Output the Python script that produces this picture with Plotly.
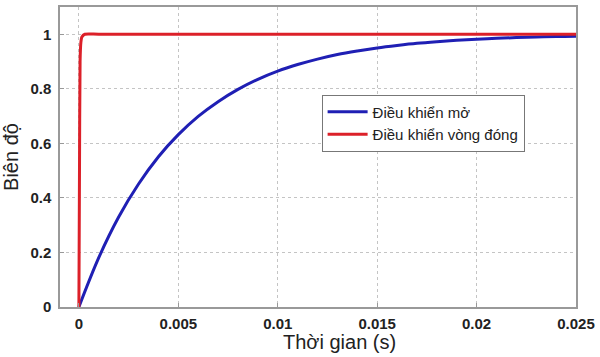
import plotly.graph_objects as go

# Values
t_open = [0, 0.001, 0.002, 0.003, 0.004, 0.005, 0.006, 0.007, 0.008, 0.009, 0.010,
          0.011, 0.012, 0.013, 0.014, 0.015, 0.016, 0.017, 0.018, 0.019, 0.020,
          0.021, 0.022, 0.023, 0.024, 0.025]
y_open = [0, 0.181, 0.330, 0.451, 0.551, 0.632, 0.699, 0.753, 0.798, 0.835, 0.865,
          0.889, 0.909, 0.926, 0.939, 0.950, 0.959, 0.967, 0.973, 0.978, 0.982,
          0.985, 0.988, 0.990, 0.992, 0.993]
t_closed = [0, 0.00003, 0.00006, 0.0001, 0.00015, 0.0003, 0.001, 0.025]
y_closed = [0, 0.5, 0.9, 0.97, 0.99, 1.0, 1.0, 1.0]

x_ticks = [0, 0.005, 0.01, 0.015, 0.02, 0.025]
x_ticklabels = ["0", "0.005", "0.01", "0.015", "0.02", "0.025"]
y_ticks = [0, 0.2, 0.4, 0.6, 0.8, 1]
y_ticklabels = ["0", "0.2", "0.4", "0.6", "0.8", "1"]

fig = go.Figure()
fig.add_trace(go.Scatter(x=t_open, y=y_open, mode="lines", name="Điều khiển mở",
                         line=dict(color="#1f1fb4", width=3, shape="spline")))
fig.add_trace(go.Scatter(x=t_closed, y=y_closed, mode="lines", name="Điều khiển vòng đóng",
                         line=dict(color="#dc2029", width=3, shape="spline", smoothing=0.6)))

axis_common = dict(showline=True, linecolor="#999999", linewidth=1.5, mirror=True,
                   showgrid=True, gridcolor="#c4c4c4", griddash="dot", gridwidth=1,
                   zeroline=False, ticks="inside", ticklen=4, tickcolor="#999999",
                   tickfont=dict(family="Liberation Sans", size=15, color="#222222", weight="bold"))

fig.update_layout(
    width=600, height=357,
    margin=dict(l=60, r=22, t=5, b=50),
    paper_bgcolor="white", plot_bgcolor="white",
    showlegend=True,
    legend=dict(x=0.507, y=0.708, xanchor="left", yanchor="top",
                bgcolor="white", bordercolor="#777777", borderwidth=1,
                font=dict(family="Liberation Sans", size=15, color="#222222"),
                tracegroupgap=0, itemwidth=40),
    xaxis=dict(range=[-0.00095, 0.025], tickvals=x_ticks, ticktext=x_ticklabels,
               ticklabelstandoff=2, **axis_common),
    yaxis=dict(range=[0, 1.1], tickvals=y_ticks, ticktext=y_ticklabels,
               ticklabelstandoff=4,
               title=dict(text="Biên độ", standoff=6,
                          font=dict(family="Liberation Sans", size=20, color="#222222")),
               **axis_common),
    annotations=[dict(text="Thời gian (s)", xref="paper", yref="paper",
                      x=0.542, y=0, yshift=-22, xanchor="center", yanchor="top",
                      showarrow=False,
                      font=dict(family="Liberation Sans", size=20, color="#222222"))],
)

fig.write_html("out.html")
